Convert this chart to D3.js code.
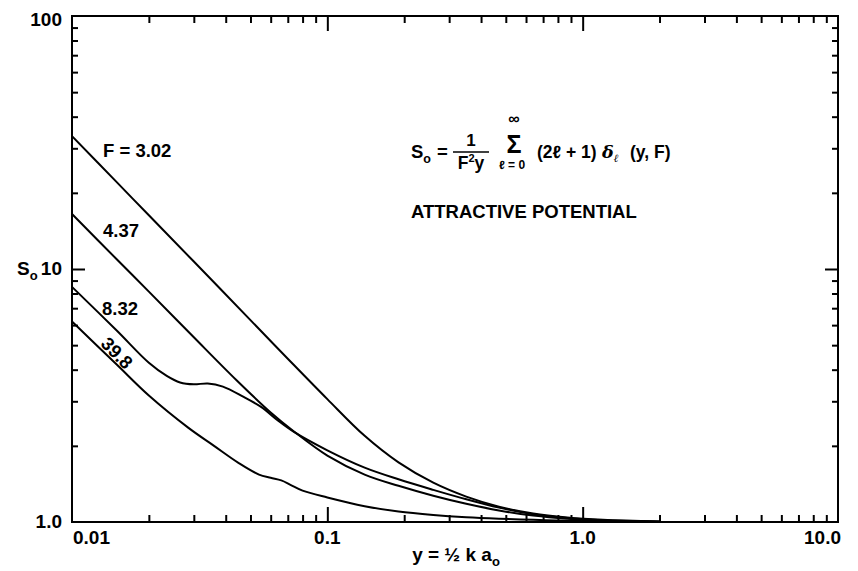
<!DOCTYPE html>
<html>
<head>
<meta charset="utf-8">
<script src="https://cdn.jsdelivr.net/npm/d3@7"></script>
<style>
  html, body { margin: 0; padding: 0; background: #fff; }
  svg text { font-family: "Liberation Sans", Arial, Helvetica, sans-serif; font-weight: bold; fill: #000; }
</style>
</head>
<body>
<svg id="chart" width="858" height="571"></svg>
<script>
// S_o(y) for an attractive potential, one curve per value of F
const fLabels = ["F = 3.02", "4.37", "8.32", "39.8"];

const yF302 = [0.01, 0.015, 0.02, 0.03, 0.05, 0.07, 0.1, 0.14, 0.19, 0.26, 0.35, 0.47, 0.64, 0.87, 1.2, 2.0];
const sF302 = [33.5, 22.0, 16.3, 10.7, 6.28, 4.42, 3.06, 2.19, 1.72, 1.43, 1.26, 1.15, 1.08, 1.042, 1.02, 1.004];

const yF437 = [0.01, 0.015, 0.02, 0.03, 0.044, 0.06, 0.074, 0.1, 0.14, 0.19, 0.26, 0.35, 0.47, 0.64, 0.87, 1.2, 2.0];
const sF437 = [16.5, 10.9, 8.14, 5.37, 3.64, 2.71, 2.28, 1.83, 1.54, 1.39, 1.27, 1.18, 1.11, 1.06, 1.03, 1.013, 1.003];

const yF832 = [0.01, 0.015, 0.02, 0.0235, 0.0265, 0.03, 0.034, 0.039, 0.047, 0.055, 0.064, 0.074, 0.1, 0.14, 0.19, 0.26, 0.35, 0.47, 0.64, 0.87, 1.2, 2.0];
const sF832 = [8.5, 5.7, 4.26, 3.78, 3.56, 3.50, 3.53, 3.43, 3.12, 2.85, 2.52, 2.27, 1.92, 1.64, 1.475, 1.34, 1.23, 1.14, 1.072, 1.036, 1.016, 1.003];

const yF398 = [0.01, 0.015, 0.02, 0.0285, 0.036, 0.045, 0.054, 0.06, 0.066, 0.072, 0.08, 0.1, 0.14, 0.19, 0.26, 0.35, 0.47, 0.64, 0.87, 1.2, 2.0];
const sF398 = [6.2, 4.18, 3.16, 2.36, 2.00, 1.71, 1.54, 1.495, 1.46, 1.40, 1.33, 1.25, 1.155, 1.10, 1.066, 1.044, 1.03, 1.02, 1.012, 1.006, 1.002];

const xTickValues = [0.01, 0.1, 1, 10];
const xTickLabels = ["0.01", "0.1", "1.0", "10.0"];
const yTickValues = [1, 10, 100];
const yTickLabels = ["1.0", "10", "100"];

const series = [
  { label: fLabels[0], xs: yF302, vs: sF302 },
  { label: fLabels[1], xs: yF437, vs: sF437 },
  { label: fLabels[2], xs: yF832, vs: sF832 },
  { label: fLabels[3], xs: yF398, vs: sF398 }
];

const svg = d3.select("#chart");
const plotLeft = 72, plotRight = 838, plotTop = 16, plotBottom = 522;

const x = d3.scaleLog().domain([0.01, 10]).range([plotLeft, plotRight]);
const y = d3.scaleLog().domain([1, 100]).range([plotBottom, plotTop]);

// minor tick positions (2..9 within each decade)
function minorTicks(lo, hi) {
  const out = [];
  for (let d = lo; d < hi; d *= 10) for (let k = 2; k <= 9; k++) out.push(+(d * k).toPrecision(3));
  return out;
}
const xMinor = minorTicks(0.01, 10);
const yMinor = minorTicks(1, 100);
const xMajor = [0.1, 1];
const yMajor = [10];

function styleAxis(g) {
  g.select(".domain").remove();
  g.selectAll(".tick line").attr("stroke", "#000").attr("stroke-width", 2);
}

// inward ticks on all four sides
svg.append("g").attr("transform", `translate(0,${plotBottom})`)
  .call(d3.axisBottom(x).tickValues(xMinor).tickSize(-7).tickFormat("")).call(styleAxis);
svg.append("g").attr("transform", `translate(0,${plotBottom})`)
  .call(d3.axisBottom(x).tickValues(xMajor).tickSize(-15).tickFormat("")).call(styleAxis);
svg.append("g").attr("transform", `translate(0,${plotTop})`)
  .call(d3.axisTop(x).tickValues(xMinor).tickSize(-7).tickFormat("")).call(styleAxis);
svg.append("g").attr("transform", `translate(0,${plotTop})`)
  .call(d3.axisTop(x).tickValues(xMajor).tickSize(-15).tickFormat("")).call(styleAxis);
svg.append("g").attr("transform", `translate(${plotLeft},0)`)
  .call(d3.axisLeft(y).tickValues(yMinor).tickSize(-6).tickFormat("")).call(styleAxis);
svg.append("g").attr("transform", `translate(${plotLeft},0)`)
  .call(d3.axisLeft(y).tickValues(yMajor).tickSize(-13).tickFormat("")).call(styleAxis);
svg.append("g").attr("transform", `translate(${plotRight},0)`)
  .call(d3.axisRight(y).tickValues(yMinor).tickSize(-6).tickFormat("")).call(styleAxis);
svg.append("g").attr("transform", `translate(${plotRight},0)`)
  .call(d3.axisRight(y).tickValues(yMajor).tickSize(-13).tickFormat("")).call(styleAxis);

// frame
svg.append("rect")
  .attr("x", plotLeft).attr("y", plotTop)
  .attr("width", plotRight - plotLeft).attr("height", plotBottom - plotTop)
  .attr("fill", "none").attr("stroke", "#000").attr("stroke-width", 2);

// tick labels
xTickValues.forEach((v, i) => {
  const anchor = i === 0 ? "start" : (i === xTickValues.length - 1 ? "end" : "middle");
  const dx = i === 0 ? 1 : (i === xTickValues.length - 1 ? 3 : 0);
  svg.append("text")
    .attr("x", x(v) + dx).attr("y", plotBottom + 22)
    .attr("text-anchor", anchor).attr("font-size", 19)
    .text(xTickLabels[i]);
});
yTickValues.forEach((v, i) => {
  svg.append("text")
    .attr("x", plotLeft - 10).attr("y", y(v) + (v === 100 ? 10 : 6))
    .attr("text-anchor", "end").attr("font-size", 19)
    .text(yTickLabels[i]);
});

// axis titles
const xt = svg.append("text").attr("x", 456).attr("y", 561)
  .attr("text-anchor", "middle").attr("font-size", 19);
xt.append("tspan").text("y = \u00BD k a");
xt.append("tspan").attr("dy", 5).attr("font-size", 13).text("o");

const yt = svg.append("text").attr("x", 17).attr("y", 275).attr("font-size", 19);
yt.append("tspan").text("S");
yt.append("tspan").attr("dy", 5).attr("font-size", 13).text("o");

// curves
const line = d3.line()
  .x(d => x(d[0]))
  .y(d => y(d[1]))
  .curve(d3.curveCatmullRom.alpha(0.5));

svg.append("g").selectAll("path")
  .data(series)
  .join("path")
  .attr("d", s => line(s.xs.map((v, i) => [v, s.vs[i]])))
  .attr("fill", "none")
  .attr("stroke", "#000")
  .attr("stroke-width", 2);

// curve labels
svg.append("text").attr("x", 103).attr("y", 157).attr("font-size", 18.5).text(series[0].label);
svg.append("text").attr("x", 103).attr("y", 237).attr("font-size", 18.5).text(series[1].label);
svg.append("text").attr("x", 102).attr("y", 315).attr("font-size", 18.5).text(series[2].label);
svg.append("text")
  .attr("transform", "translate(117,353) rotate(45)")
  .attr("text-anchor", "middle").attr("dy", "0.35em")
  .attr("font-size", 18.5).text(series[3].label);

// formula
const f = svg.append("g");
const so = f.append("text").attr("x", 411).attr("y", 158).attr("font-size", 18.5);
so.append("tspan").text("S");
so.append("tspan").attr("dy", 5).attr("font-size", 12.5).text("o");
f.append("text").attr("x", 437).attr("y", 158).attr("font-size", 18.5).text("=");
f.append("text").attr("x", 471).attr("y", 146).attr("text-anchor", "middle").attr("font-size", 17).text("1");
f.append("line").attr("x1", 453).attr("x2", 489).attr("y1", 152).attr("y2", 152)
  .attr("stroke", "#000").attr("stroke-width", 1.6);
const den = f.append("text").attr("x", 471).attr("y", 169).attr("text-anchor", "middle").attr("font-size", 17.5);
den.append("tspan").text("F");
den.append("tspan").attr("dy", -7).attr("font-size", 11).text("2");
den.append("tspan").attr("dy", 7).text("y");
f.append("text").attr("x", 514).attr("y", 153).attr("text-anchor", "middle").attr("font-size", 25).text("\u03A3");
f.append("text").attr("x", 514).attr("y", 124).attr("text-anchor", "middle").attr("font-size", 16).text("\u221E");
f.append("text").attr("x", 512).attr("y", 169).attr("text-anchor", "middle").attr("font-size", 12).text("\u2113 = 0");
f.append("text").attr("x", 537).attr("y", 158).attr("font-size", 17.5).text("(2\u2113 + 1)");
const dl = f.append("text").attr("x", 602).attr("y", 158).attr("font-size", 17.5)
  .attr("font-style", "italic").attr("font-weight", "normal")
  .style("font-family", "'DejaVu Serif', serif");
dl.append("tspan").text("\u03B4");
dl.append("tspan").attr("dy", 4).attr("font-size", 11).text("\u2113");
f.append("text").attr("x", 630).attr("y", 158).attr("font-size", 17.5).text("(y, F)");

svg.append("text").attr("x", 411).attr("y", 218).attr("font-size", 18.5).text("ATTRACTIVE POTENTIAL");
</script>
</body>
</html>
